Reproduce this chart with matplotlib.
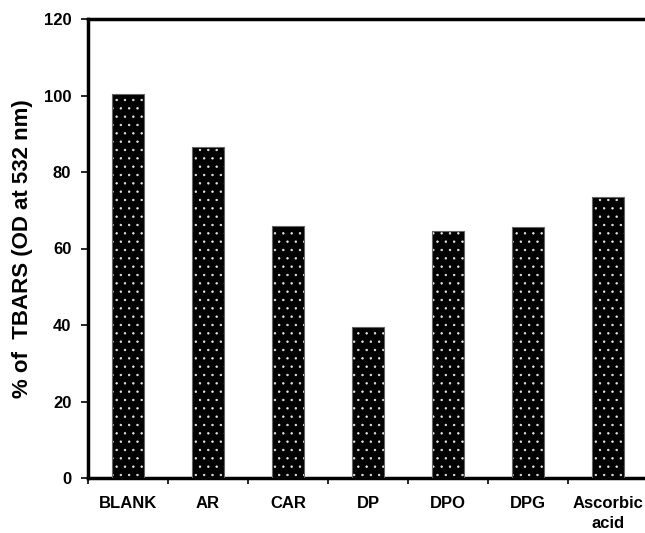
import matplotlib
matplotlib.use("Agg")
import matplotlib.pyplot as plt
import numpy as np

categories = ["BLANK", "AR", "CAR", "DP", "DPO", "DPG", "Ascorbic\nacid"]
values = [100.5, 86.5, 66.0, 39.5, 64.5, 65.5, 73.5]
yticks = [0, 20, 40, 60, 80, 100, 120]

plt.rcParams['font.family'] = ['Liberation Sans', 'DejaVu Sans']
plt.rcParams['hatch.linewidth'] = 0.5

fig = plt.figure(figsize=(6.45, 5.33), dpi=100)
ax = fig.add_axes([88/645, 55/533, 560/645, 459/533])

x = np.arange(len(categories))
ax.bar(x, values, width=0.41, color='black', edgecolor='#e8e8e8', hatch='..', linewidth=0, zorder=2)
ax.bar(x, values, width=0.41, fill=False, edgecolor='#666666', linewidth=0.8, zorder=3)

ax.set_xlim(-0.5, len(categories) - 0.5)
ax.set_ylim(0, 120)
ax.set_yticks(yticks)
ax.set_yticklabels([str(v) for v in yticks], fontsize=12, fontweight='bold')

ax.set_xticks(np.arange(len(categories) + 1) - 0.5)
ax.set_xticklabels([])
ax.set_xticks(x, minor=True)
ax.set_xticklabels(categories, minor=True, fontsize=12, fontweight='bold', linespacing=1.45)
ax.tick_params(axis='x', which='minor', length=0, pad=13)
ax.tick_params(axis='x', which='major', length=4, width=1.2, direction='out')
ax.tick_params(axis='y', length=5, width=1.2, direction='out', pad=7)

for s in ['left', 'bottom', 'top']:
    ax.spines[s].set_linewidth(2.5)
ax.spines['right'].set_visible(False)

ax.set_ylabel("% of  TBARS (OD at 532 nm)", fontsize=16, fontweight='bold', labelpad=8)

fig.savefig("out.png", dpi=100)
